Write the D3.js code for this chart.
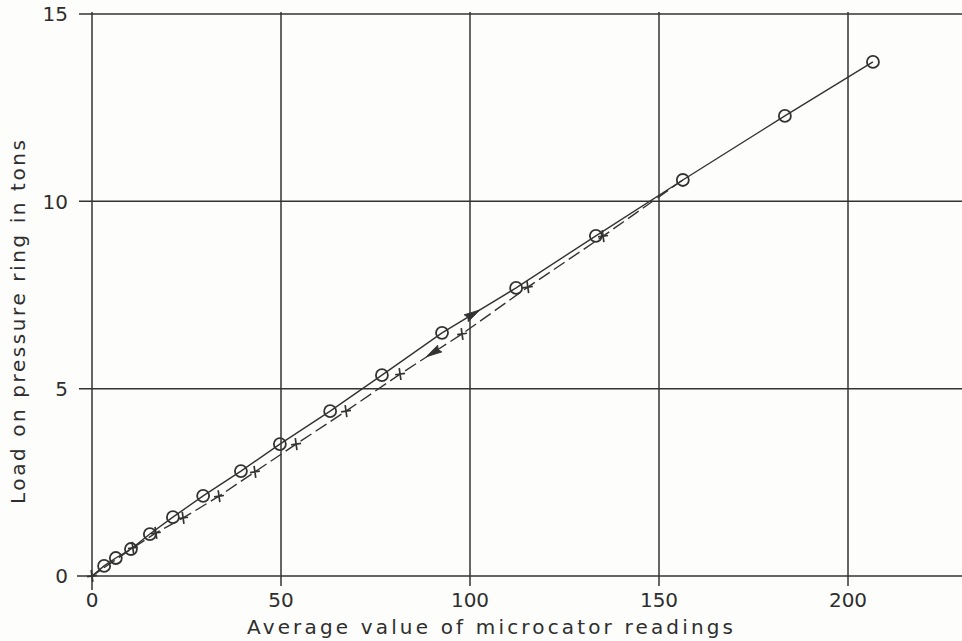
<!DOCTYPE html>
<html>
<head>
<meta charset="utf-8">
<script src="https://cdn.jsdelivr.net/npm/d3@7"></script>
<style>
  body { margin: 0; background: #fdfdfb; }
  svg { display: block; }
  text { font-family: "DejaVu Sans", "Noto Sans", sans-serif; fill: #2e2e2e; }
</style>
</head>
<body>
<div id="chart"></div>
<script>
// loading run (circles, solid line) - first point is the origin, no marker
const loadX = [0, 3.2, 6.3, 10.3, 15.3, 21.4, 29.4, 39.4, 49.7, 63.0, 76.7, 92.6, 112.2, 133.3, 156.3, 183.3, 206.6];
const loadY = [0, 0.27, 0.48, 0.72, 1.12, 1.57, 2.14, 2.80, 3.52, 4.40, 5.36, 6.49, 7.69, 9.08, 10.57, 12.28, 13.72];

// unloading run (plus marks, dashed line) - starts from the loading curve
const unloadX = [156.3, 135.2, 115.3, 97.9, 81.5, 67.2, 54.0, 43.1, 33.6, 24.1, 16.9, 10.8, 0];
const unloadY = [10.57, 9.07, 7.71, 6.46, 5.39, 4.40, 3.52, 2.78, 2.13, 1.55, 1.15, 0.75, 0];

// direction arrows on the two lines
const arrowX = [100.8, 90.2];
const arrowY = [6.99, 5.96];
const arrowDir = [1, -1];

const xTicks = [0, 50, 100, 150, 200];
const yTicks = [0, 5, 10, 15];
const xTitle = "Average value of microcator readings";
const yTitle = "Load on pressure ring in tons";

const width = 962, height = 641;
const ink = "#333";

let svg = d3.select("#chart")
    .append("svg")
    .attr("width", width)
    .attr("height", height);

let x = d3.scaleLinear().domain([0, 200]).range([92, 848]);
let y = d3.scaleLinear().domain([0, 15]).range([576, 14]);

// grid: horizontal lines run off the right edge, vertical lines poke below the axis
let grid = svg.append("g").attr("stroke", ink).attr("stroke-width", 1.5);

grid.selectAll("line.h")
    .data(yTicks)
    .enter().append("line")
    .attr("class", "h")
    .attr("x1", d => d === 0 ? 77 : 79)
    .attr("x2", width)
    .attr("y1", d => y(d))
    .attr("y2", d => y(d));

grid.selectAll("line.v")
    .data(xTicks)
    .enter().append("line")
    .attr("class", "v")
    .attr("x1", d => x(d))
    .attr("x2", d => x(d))
    .attr("y1", y(15) - 2)
    .attr("y2", d => d === 0 ? y(0) + 14 : y(0) + 10);

// tick labels
svg.append("g")
    .selectAll("text")
    .data(yTicks)
    .enter().append("text")
    .attr("x", 68)
    .attr("y", d => y(d))
    .attr("dy", "0.36em")
    .attr("text-anchor", "end")
    .style("font-size", "20px")
    .text(d => d);

svg.append("g")
    .selectAll("text")
    .data(xTicks)
    .enter().append("text")
    .attr("x", d => x(d))
    .attr("y", 607)
    .attr("text-anchor", "middle")
    .style("font-size", "20px")
    .text(d => d);

// axis titles
svg.append("text")
    .attr("x", 490)
    .attr("y", 634)
    .attr("text-anchor", "middle")
    .attr("textLength", 486)
    .attr("lengthAdjust", "spacing")
    .style("font-size", "20px")
    .text(xTitle);

svg.append("text")
    .attr("transform", "translate(25,322) rotate(-90)")
    .attr("text-anchor", "middle")
    .attr("textLength", 364)
    .attr("lengthAdjust", "spacing")
    .style("font-size", "20px")
    .text(yTitle);

// lines
let loadPts = loadX.map((v, i) => [v, loadY[i]]);
let unloadPts = unloadX.map((v, i) => [v, unloadY[i]]);

let line = d3.line()
    .x(d => x(d[0]))
    .y(d => y(d[1]));

svg.append("path")
    .datum(loadPts)
    .attr("d", line)
    .attr("fill", "none")
    .attr("stroke", ink)
    .attr("stroke-width", 1.4);

svg.append("path")
    .datum(unloadPts)
    .attr("d", line)
    .attr("fill", "none")
    .attr("stroke", ink)
    .attr("stroke-width", 1.4)
    .attr("stroke-dasharray", "13,5");

// markers
svg.append("g")
    .selectAll("circle")
    .data(loadPts.slice(1))
    .enter().append("circle")
    .attr("cx", d => x(d[0]))
    .attr("cy", d => y(d[1]))
    .attr("r", 6)
    .attr("fill", "none")
    .attr("stroke", ink)
    .attr("stroke-width", 1.8);

svg.append("g")
    .selectAll("path")
    .data(unloadPts.slice(1))
    .enter().append("path")
    .attr("d", "M-5,0H5M0,-6V6")
    .attr("transform", d => "translate(" + x(d[0]) + "," + y(d[1]) + ") rotate(-8)")
    .attr("fill", "none")
    .attr("stroke", ink)
    .attr("stroke-width", 1.7);

// arrowheads, oriented along the drawn slope of each line
let slope = Math.atan2(y(loadY[12]) - y(loadY[11]), x(loadX[12]) - x(loadX[11])) * 180 / Math.PI;
svg.append("g")
    .selectAll("path")
    .data(arrowX.map((v, i) => [v, arrowY[i], arrowDir[i]]))
    .enter().append("path")
    .attr("d", "M8,0L-8,-4L-6,0L-8,4Z")
    .attr("transform", d => "translate(" + x(d[0]) + "," + y(d[1]) + ") rotate(" + (d[2] > 0 ? slope : slope + 180) + ")")
    .attr("fill", ink)
    .attr("stroke", ink)
    .attr("stroke-width", 0.8);
</script>
</body>
</html>
